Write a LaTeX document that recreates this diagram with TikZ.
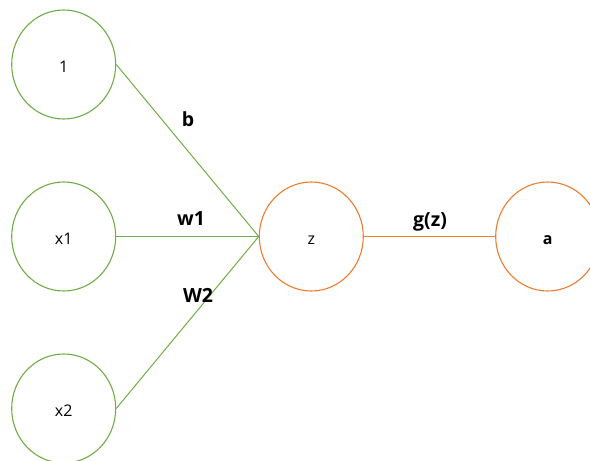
\documentclass[tikz,border=0pt]{standalone}
\usepackage{fontspec}
\setmainfont{Open Sans}
\usetikzlibrary{shapes.geometric}
\definecolor{leafgreen}{HTML}{70AD47}
\definecolor{emberorange}{HTML}{ED7D31}
\begin{document}
\begin{tikzpicture}[x=1pt,y=-1pt,
  neuron/.style={ellipse,draw,line width=1.1pt,minimum width=104pt,minimum height=109pt,inner sep=0pt,
    text height=16pt,text depth=0pt,font=\fontsize{16}{19}\selectfont},
  inunit/.style={neuron,draw=leafgreen},
  outunit/.style={neuron,draw=emberorange},
  inlink/.style={draw=leafgreen,line width=1pt},
  outlink/.style={draw=emberorange,line width=1pt},
  weight/.style={font=\bfseries\fontsize{19.5}{23}\selectfont}]
\useasboundingbox (0,0) rectangle (590,461);
\node[inunit] (one) at (63.7,64.5) {1};
\node[inunit] (xa) at (63.7,236.5) {x1};
\node[inunit] (xb) at (63.7,408.5) {x2};
\node[outunit] (z) at (311.3,236.5) {z};
\node[outunit,font=\bfseries\fontsize{16}{19}\selectfont] (a) at (547.7,236.5) {a};
\draw[inlink] (one.east) -- (z.west);
\draw[inlink] (xa.east) -- (z.west);
\draw[inlink] (xb.east) -- (z.west);
\draw[outlink] (z.east) -- (a.west);
\node[weight] (lb) at (188,119) {b};
\node[weight] (lw1) at (191,219) {w1};
\node[weight] (lw2) at (198,295) {W2};
\node[weight] (lg) at (430,222) {g(z)};
\end{tikzpicture}
\end{document}
